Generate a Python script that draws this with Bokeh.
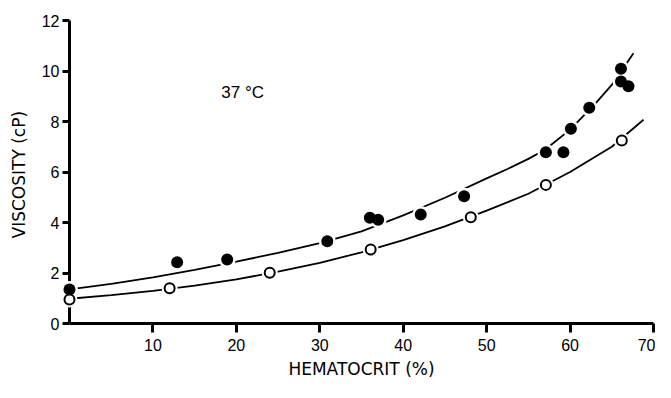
from bokeh.plotting import figure
from bokeh.models import FixedTicker, Label
from bokeh.embed import file_html
from bokeh.resources import INLINE

# Filled circles
hct_filled = [0, 12.9, 18.9, 30.9, 36.0, 37.0, 42.1, 47.3, 57.1, 59.2, 60.1, 62.3, 66.1, 66.1, 67.0]
visc_filled = [1.35, 2.43, 2.53, 3.26, 4.19, 4.11, 4.32, 5.04, 6.78, 6.78, 7.71, 8.54, 9.58, 10.09, 9.40]

# Open circles
hct_open = [0, 12.0, 24.0, 36.1, 48.1, 57.1, 66.2]
visc_open = [0.95, 1.40, 2.01, 2.93, 4.21, 5.49, 7.25]

# Fitted curves
curve_upper_x = [0, 5, 10, 15, 20, 25, 30, 35, 40, 45, 50, 52.5, 55, 57, 60, 63, 65, 67.6]
curve_upper_y = [1.35, 1.57, 1.83, 2.12, 2.45, 2.80, 3.18, 3.65, 4.28, 4.98, 5.75, 6.12, 6.52, 6.88, 7.68, 8.70, 9.45, 10.70]
curve_lower_x = [0, 5, 10, 15, 20, 25, 30, 35, 40, 45, 50, 55, 60, 65, 68.8]
curve_lower_y = [0.98, 1.12, 1.29, 1.50, 1.75, 2.05, 2.40, 2.82, 3.30, 3.85, 4.47, 5.14, 6.00, 7.00, 8.07]

x_ticks = [10, 20, 30, 40, 50, 60, 70]
y_ticks = [0, 2, 4, 6, 8, 10, 12]

p = figure(width=655, height=382, x_range=(0, 70), y_range=(0, 12),
           output_backend="svg", toolbar_location=None,
           min_border_left=69, min_border_right=2, min_border_top=20, min_border_bottom=59)

p.outline_line_color = None
p.xgrid.visible = False
p.ygrid.visible = False
p.background_fill_color = "white"
p.border_fill_color = "white"

for ax in (p.xaxis, p.yaxis):
    ax.axis_line_width = 3
    ax.axis_line_color = "black"
    ax.major_tick_line_width = 3
    ax.major_tick_line_color = "black"
    ax.major_tick_in = 0
    ax.minor_tick_out = 0
    ax.minor_tick_in = 0
    ax.major_label_text_font = "Liberation Sans"
    ax.major_label_text_font_size = "16px"
    ax.major_label_text_color = "black"
    ax.axis_label_text_font = "DejaVu Sans"
    ax.axis_label_text_font_size = "17px"
    ax.axis_label_text_font_style = "normal"
    ax.axis_label_text_color = "black"

p.xaxis.ticker = FixedTicker(ticks=x_ticks)
p.yaxis.ticker = FixedTicker(ticks=y_ticks)
p.xaxis.major_tick_out = 9
p.yaxis.major_tick_out = 7
p.xaxis.major_label_standoff = 6
p.yaxis.major_label_standoff = 3
p.xaxis.axis_label = "HEMATOCRIT (%)"
p.yaxis.axis_label = "VISCOSITY  (cP)"
p.xaxis.axis_label_standoff = 5
p.yaxis.axis_label_standoff = 10

p.line(curve_upper_x, curve_upper_y, line_width=1.8, line_color="black", level="overlay")
p.line(curve_lower_x, curve_lower_y, line_width=1.8, line_color="black", level="overlay")

# white halos that break the curves around the markers
p.scatter(hct_filled, visc_filled, size=17, fill_color="white", line_color=None, level="overlay")
p.scatter(hct_open, visc_open, size=16, fill_color="white", line_color=None, level="overlay")

p.scatter(hct_filled, visc_filled, size=12, fill_color="black", line_color=None, level="overlay")
p.scatter(hct_open, visc_open, size=10, fill_color="white", line_color="black", line_width=2, level="overlay")

p.add_layout(Label(x=18.2, y=9.15, text="37 °C", text_font="Liberation Sans",
                   text_font_size="17px", text_baseline="middle", text_color="black"))

open("out.html", "w").write(file_html(p, INLINE))
